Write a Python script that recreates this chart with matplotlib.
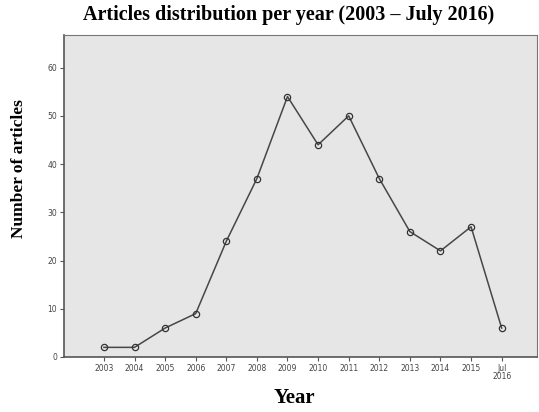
import matplotlib.pyplot as plt

years = ["2003", "2004", "2005", "2006", "2007", "2008", "2009", "2010",
         "2011", "2012", "2013", "2014", "2015", "Jul\n2016"]
articles = [2, 2, 6, 9, 24, 37, 54, 44, 50, 37, 26, 22, 27, 6]
y_ticks = [0, 10, 20, 30, 40, 50, 60]


def plotting():
    fig = plt.figure(figsize=(5.39, 4.12), dpi=100)
    ax = fig.add_axes([0.119, 0.1335, 0.877, 0.782])
    ax.set_facecolor("#e6e6e6")

    x = list(range(len(years)))
    ax.plot(x, articles, color="#474747", linewidth=1.1, marker="o",
            markersize=4.5, markerfacecolor="none", markeredgecolor="#333333",
            markeredgewidth=0.9)

    ax.set_xlim(-1.3, len(years) - 1 + 1.15)
    ax.set_ylim(0, 66.8)
    ax.set_xticks(x)
    ax.set_xticklabels(years, fontsize=5.5, color="#444444", linespacing=0.8)
    ax.set_yticks(y_ticks)
    ax.set_yticklabels([str(v) for v in y_ticks], fontsize=5.5, color="#444444")
    ax.tick_params(length=3, width=0.8, color="#555555", pad=2)

    for side in ["left", "bottom"]:
        ax.spines[side].set_color("#555555")
        ax.spines[side].set_linewidth(1.2)
    for side in ["top", "right"]:
        ax.spines[side].set_color("#777777")
        ax.spines[side].set_linewidth(0.8)

    font = {"family": "Liberation Serif", "weight": "bold"}
    fig.text(0.536, 0.963, "Articles distribution per year (2003 \u2013 July 2016)",
             ha="center", va="center", fontsize=14.5, **font)
    fig.text(0.547, 0.035, "Year", ha="center", va="center", fontsize=15, **font)
    fig.text(0.036, 0.59, "Number of articles", ha="center", va="center",
             rotation=90, fontsize=12.5, **font)

    fig.savefig("out.png", dpi=100)


if __name__ == '__main__':
    plotting()
